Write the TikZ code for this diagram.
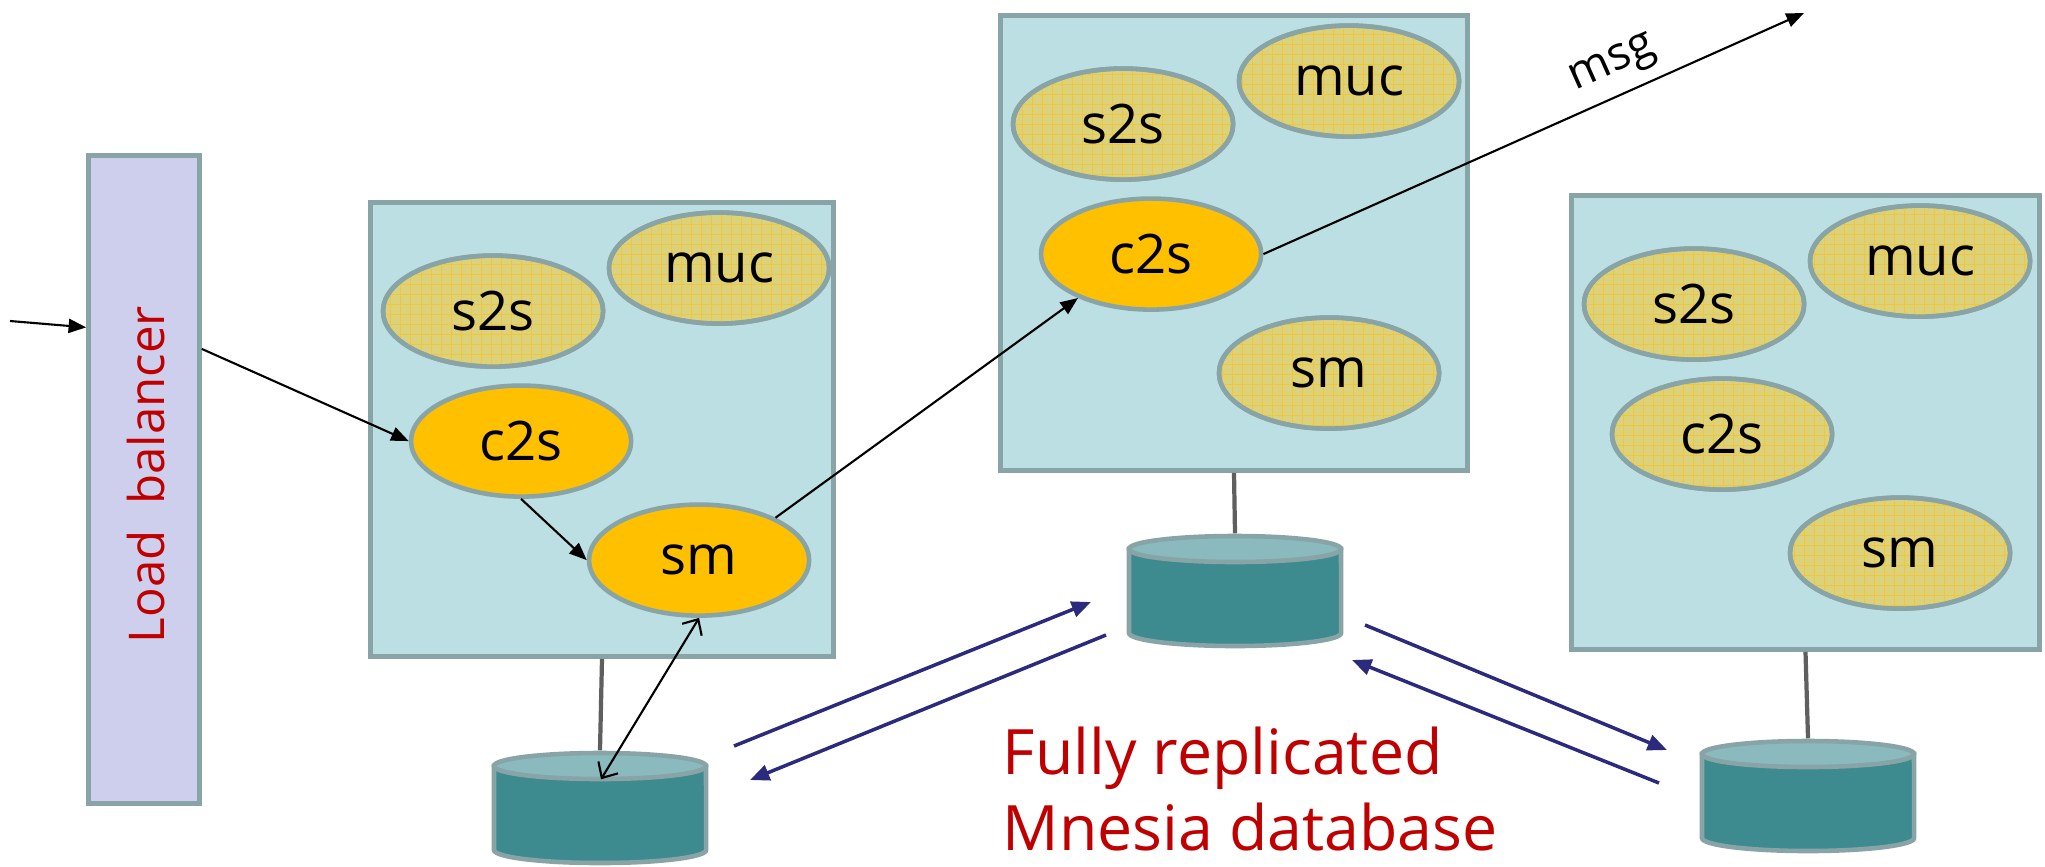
\documentclass[tikz,border=0pt]{standalone}
\usepackage{fontspec}
\setmainfont{Open Sans}
\usetikzlibrary{arrows.meta,calc,patterns.meta,shapes.geometric}

\definecolor{boxfill}{HTML}{BBDFE2}
\definecolor{boxline}{HTML}{88A4A6}
\definecolor{lbfill}{HTML}{CDCFEC}
\definecolor{procfill}{HTML}{DDD27C}
\definecolor{procgrid}{HTML}{F2C63A}
\definecolor{active}{HTML}{FFC000}
\definecolor{dbside}{HTML}{3D8A8F}
\definecolor{dbtop}{HTML}{8ABABE}
\definecolor{linkgray}{HTML}{5F5F5F}
\definecolor{repblue}{HTML}{2B2A7C}
\definecolor{notered}{HTML}{C00000}

\tikzset{
  server/.style={draw=boxline, line width=1.3pt, fill=boxfill, inner sep=0pt},
  balancer/.style={draw=boxline, line width=1.3pt, fill=lbfill, inner sep=0pt,
    minimum width=1.11cm, minimum height=6.48cm},
  procbase/.style={ellipse, draw=boxline, line width=1.3pt, inner sep=0pt,
    minimum width=2.2cm, minimum height=1.11cm,
    font=\fontsize{15.5pt}{18pt}\selectfont},
  idle/.style={procbase, fill=procfill,
    postaction={pattern={Hatch[angle=0,distance=2.85pt,line width=0.25pt]},
      pattern color=procgrid, draw=boxline}},
  busy/.style={procbase, fill=active},
  drumhold/.style={inner sep=0pt, minimum width=2.16cm, minimum height=1.14cm},
  drumbody/.style={fill=dbside, draw=boxline, line width=1.3pt},
  drumlid/.style={fill=dbtop, draw=boxline, line width=1.3pt},
  tie/.style={draw=linkgray, line width=1.2pt},
  flow/.style={draw=black, line width=0.6pt, -{Triangle[length=5pt,width=4pt]}},
  both/.style={draw=black, line width=0.6pt,
    {Straight Barb[length=3.5pt,width=6.5pt]}-{Straight Barb[length=3.5pt,width=6.5pt]}},
  repl/.style={draw=repblue, line width=1pt, -{Triangle[length=5.5pt,width=4.5pt]}},
  redtext/.style={text=notered, inner sep=0pt},
}

% database drum: name, centre x, top y
\newcommand\dbdrum[3]{%
  \node[drumhold] (#1) at (#2,#3+57) {};
  \path[drumbody] (#2-106,#3+15) -- (#2-106,#3+99)
    arc[start angle=180, end angle=360, x radius=1.06cm, y radius=0.13cm]
    -- (#2+106,#3+15) -- cycle;
  \path[drumlid] (#2,#3+15) ellipse[x radius=1.06cm, y radius=0.13cm];
}

% one server box with its four processes: suffix, centre x, centre y, width, height, c2s style, sm style
\newcommand\serverbox[7]{%
  \node[server, minimum width=#4, minimum height=#5] (box#1) at (#2,#3) {};
  \node[idle] (s2s#1) at ($(box#1.north west)+(125,111)$) {s2s};
  \node[idle] (muc#1) at ($(box#1.north west)+(351,68)$) {muc};
  \node[#6] (c2s#1) at ($(box#1.north west)+(153,241)$) {c2s};
  \node[#7] (sm#1) at ($(box#1.north west)+(331,360)$) {sm};
}

\begin{document}
\begin{tikzpicture}[x=0.01cm, y=-0.01cm]
\useasboundingbox (0,0) rectangle (2045,866);

% load balancer
\node[balancer] (lb) at (144,479.5) {};
\node[redtext, rotate=90, font=\fontsize{14pt}{17pt}\selectfont] (lblabel)
  at ($(lb.center)+(2,-5)$) {Load~~balancer};

% servers
\serverbox{1}{602}{429.5}{4.63cm}{4.54cm}{busy}{busy}
\serverbox{2}{1234}{243}{4.67cm}{4.55cm}{busy}{idle}
\serverbox{3}{1805.5}{422.5}{4.68cm}{4.54cm}{idle}{idle}

% replicated storage
\dbdrum{db1}{600}{751}
\dbdrum{db2}{1235}{534}
\dbdrum{db3}{1808}{739}

\draw[tie] (box1.south) -- (db1.north);
\draw[tie] (box2.south) -- (db2.north);
\draw[tie] (box3.south) -- (db3.north);

% message path
\coordinate (inlet) at (10,321);
\coordinate (msgend) at (1804,13);
\coordinate (db1in) at ($(db1.north)+(1,29)$);

\draw[flow] (inlet) -- ($(lb.north west)!0.267!(lb.south west)$);
\draw[flow] ($(lb.north east)!0.3!(lb.south east)$) -- (c2s1.west);
\draw[flow] (c2s1.south) -- (sm1.west);
\draw[flow] (sm1.29) -- (c2s2.211);
\draw[flow] (c2s2.east) -- node[pos=0.67, above=3pt, sloped, inner sep=0pt,
  font=\fontsize{13pt}{15pt}\selectfont] (msglabel) {msg} (msgend);
\draw[both] (sm1.south) -- (db1in);

% replication arrows between the drums
\coordinate (r1a) at (734,746);
\coordinate (r1b) at (1091,602);
\coordinate (r2a) at (1106,635);
\coordinate (r2b) at (750,780);
\coordinate (r3a) at (1365,625);
\coordinate (r3b) at (1667,750);
\coordinate (r4a) at (1659,783);
\coordinate (r4b) at (1352,660);
\draw[repl] (r1a) -- (r1b);
\draw[repl] (r2a) -- (r2b);
\draw[repl] (r3a) -- (r3b);
\draw[repl] (r4a) -- (r4b);

\node[redtext, align=left, anchor=west, font=\fontsize{17.8pt}{21.5pt}\selectfont] (replnote)
  at (1002,789) {Fully replicated\\Mnesia database};
\end{tikzpicture}
\end{document}
